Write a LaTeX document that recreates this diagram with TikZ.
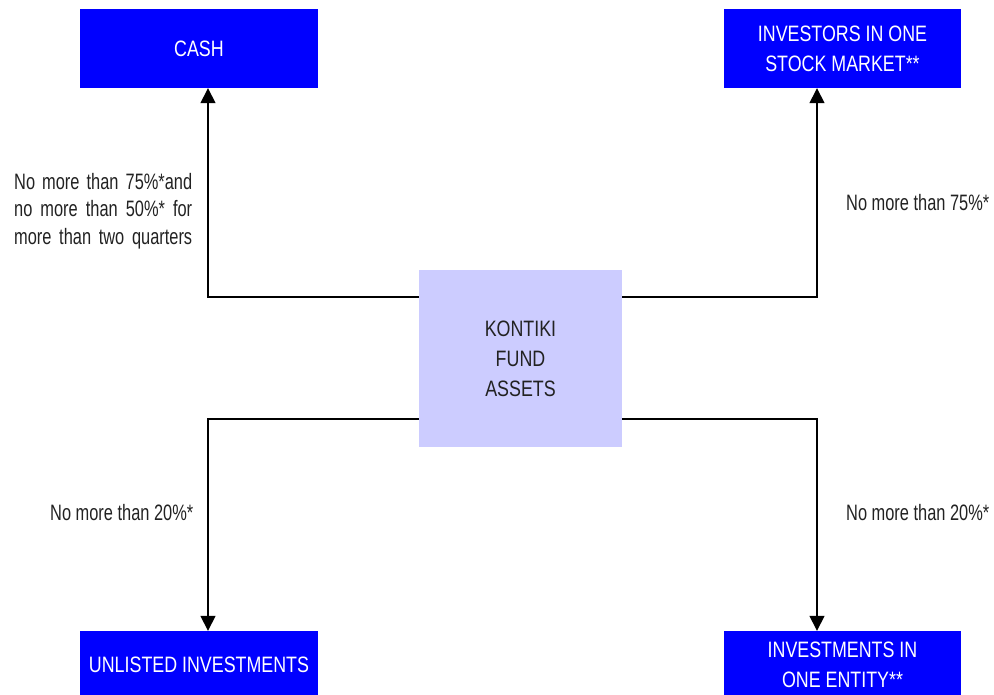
\documentclass[tikz,border=0pt]{standalone}
\usepackage{fontspec}
\setmainfont{Liberation Sans}[FakeStretch=0.735]
\newfontfamily\boxfont{Liberation Sans}[FakeStretch=0.80]
\usetikzlibrary{arrows.meta}
\definecolor{boxblue}{HTML}{0000FF}
\definecolor{ctrfill}{HTML}{CCCCFF}
\definecolor{txtdark}{HTML}{222222}
\begin{document}
\begin{tikzpicture}[x=1pt,y=-1pt,
  bluebox/.style={draw=none,fill=boxblue,text=white,align=center,inner sep=0pt,
    font=\boxfont\fontsize{22.3}{30}\selectfont},
  ctrbox/.style={draw=none,fill=ctrfill,text=txtdark,align=center,inner sep=0pt,
    minimum width=203pt,minimum height=177pt,font=\boxfont\fontsize{22.3}{30}\selectfont},
  lbl/.style={anchor=base west,inner sep=0pt,text=txtdark,font=\fontsize{22.3}{27.5}\selectfont},
  conn/.style={line width=1.5pt,black},
  arr/.style={conn,-{Triangle[width=15pt,length=15pt]}}]
\useasboundingbox (0,0) rectangle (994,694);
\node[bluebox,minimum width=238pt,minimum height=79pt] (cash) at (199,48.5) {CASH};
\node[bluebox,minimum width=237pt,minimum height=79pt] (inv) at (842.5,48.5) {INVESTORS IN ONE\\STOCK MARKET**};
\node[bluebox,minimum width=238pt,minimum height=68pt] (unl) at (199,665) {UNLISTED INVESTMENTS};
\node[bluebox,minimum width=237pt,minimum height=68pt] (ent) at (842.5,665) {INVESTMENTS IN\\ONE ENTITY**};
\node[ctrbox] (ctr) at (520.5,358.5) {KONTIKI\\FUND\\ASSETS};
\draw[arr] ([yshift=-27pt]ctr.north west) -| ([xshift=9pt]cash.south);
\draw[arr] ([yshift=-27pt]ctr.north east) -| ([xshift=-25.5pt]inv.south);
\draw[arr] ([yshift=28pt]ctr.south west) -| ([xshift=9pt]unl.north);
\draw[arr] ([yshift=28pt]ctr.south east) -| ([xshift=-25.5pt]ent.north);
\node[lbl] (l1a) at (14,189) {\makebox[178pt][s]{No more than 75\%*and}};
\node[lbl] (l1b) at (14,216.5) {\makebox[178pt][s]{no more than 50\%* for}};
\node[lbl] (l1c) at (14,244) {\makebox[178pt][s]{more than two quarters}};
\node[lbl] (l2) at (846,210) {No more than 75\%*};
\node[lbl] (l3) at (50,520) {No more than 20\%*};
\node[lbl] (l4) at (846,520) {No more than 20\%*};
\end{tikzpicture}
\end{document}
